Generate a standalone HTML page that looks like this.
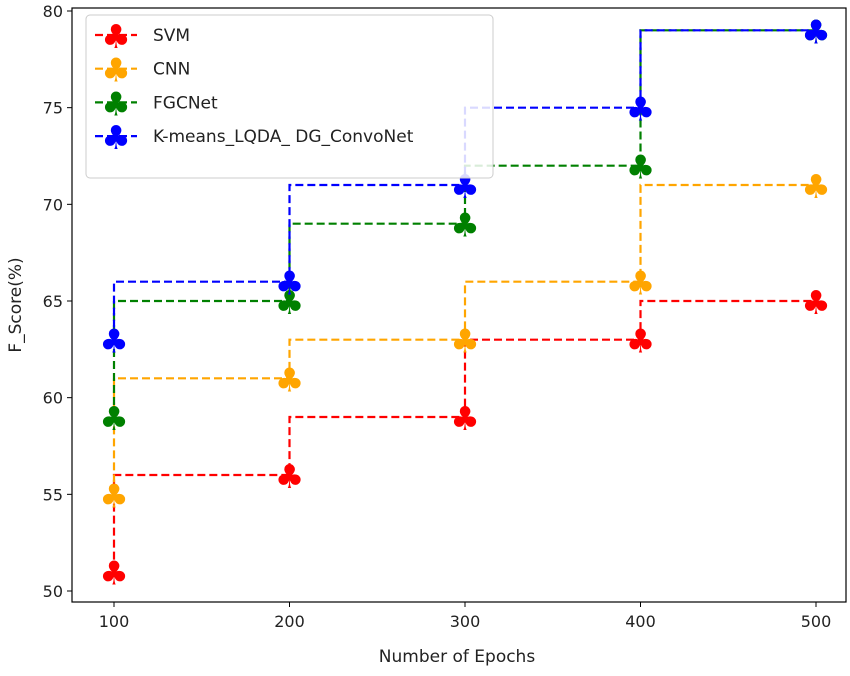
<!DOCTYPE html>
<html><head><meta charset="utf-8"><style>
body{margin:0;background:#fff;font-family:"Liberation Sans","DejaVu Sans",sans-serif}
svg text{font-family:"DejaVu Sans","Liberation Sans",sans-serif}
</style></head><body>
<svg id="chart" width="850" height="671" xmlns="http://www.w3.org/2000/svg"></svg>
<script>
const categories=[100,200,300,400,500];
const svmValues=[51,56,59,63,65];
const cnnValues=[55,61,63,66,71];
const fgcValues=[59,65,69,72,79];
const oursValues=[63,66,71,75,79];
const seriesNames=["SVM","CNN","FGCNet","K-means_LQDA_ DG_ConvoNet"];
const seriesColors=["#ff0000","#ffa500","#008000","#0000ff"];
const yTicks=[50,55,60,65,70,75,80];
const xTicks=[100,200,300,400,500];
const NS="http://www.w3.org/2000/svg";
const svg=document.getElementById('chart');
const L=72,R=846,T=8,B=602;
function xs(v){return 114+(v-100)*(816-114)/400;}
function ys(v){return 591-(v-50)*(591-11)/30;}
function mk(tag,attrs,parent){const e=document.createElementNS(NS,tag);for(const k in attrs)e.setAttribute(k,attrs[k]);(parent||svg).appendChild(e);return e;}
const frame=mk('rect',{x:L,y:T,width:R-L,height:B-T,fill:'none',stroke:'#000','stroke-width':1.2});


yTicks.forEach(t=>{
  const y=ys(t);
  const l=mk('line',{x1:L-5,x2:L,y1:y,y2:y,stroke:'#000'});
  
  
  const tx=mk('text',{x:L-9,y:y+6,'text-anchor':'end','font-size':16,fill:'#222'});
  tx.textContent=t;
  
  
});
xTicks.forEach(t=>{
  const x=xs(t);
  const l=mk('line',{x1:x,x2:x,y1:B,y2:B+5,stroke:'#000'});
  
  
  const tx=mk('text',{x:x,y:B+25,'text-anchor':'middle','font-size':16,fill:'#222'});
  tx.textContent=t;
  
  
});
const xt=mk('text',{x:(L+R)/2-2,y:662,'text-anchor':'middle','font-size':17,fill:'#222'});
xt.textContent='Number of Epochs';


const yt=mk('text',{x:0,y:0,'text-anchor':'middle','font-size':17,fill:'#222',transform:`translate(21,${(T+B)/2}) rotate(-90)`});
yt.textContent='F_Score(%)';


function marker(x,y,color,parent){
  const t=mk('text',{x:x,y:y+13,'text-anchor':'middle','font-size':33,fill:color},parent);
  t.textContent='♣';
  return t;
}
const allSeries=[svmValues,cnnValues,fgcValues,oursValues];
allSeries.forEach((vals,si)=>{
  const g=mk('g',{});
  
  
  let d=`M${xs(categories[0])},${ys(vals[0])}`;
  for(let i=1;i<vals.length;i++){d+=` V${ys(vals[i])} H${xs(categories[i])}`;}
  const p=mk('path',{d:d,fill:'none',stroke:seriesColors[si],'stroke-width':2.2,'stroke-dasharray':'8,4'},g);
  
  
  vals.forEach((v,i)=>{
    const m=marker(xs(categories[i]),ys(v),seriesColors[si],g);
    
    
  });
});
const lg=mk('g',{});


mk('rect',{x:86,y:15,width:407,height:163,rx:4,fill:'#fff','fill-opacity':0.85,stroke:'#ccc'},lg);
seriesNames.forEach((n,i)=>{
  const y=35+i*33.7;
  const e=mk('g',{},lg);
  
  
  mk('line',{x1:95,x2:137,y1:y,y2:y,stroke:seriesColors[i],'stroke-width':2.2,'stroke-dasharray':'8,4'},e);
  marker(116,y,seriesColors[i],e);
  const t=mk('text',{x:153,y:y+6,'font-size':17,fill:'#222'},e);
  t.textContent=n;
});
</script>
</body></html>
